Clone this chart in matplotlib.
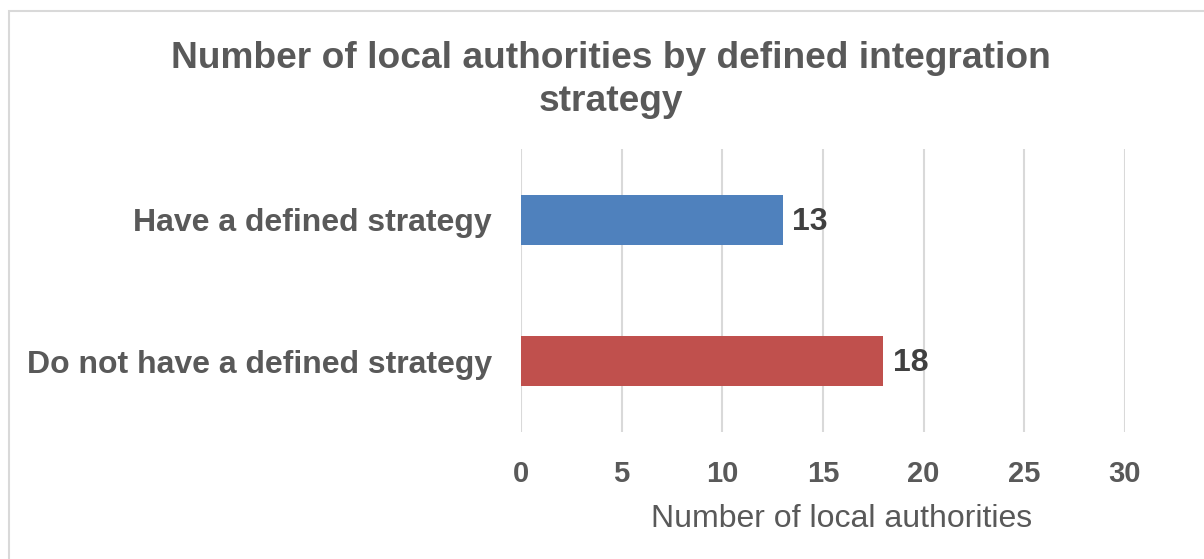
import matplotlib
matplotlib.use("Agg")
import matplotlib.pyplot as plt
from matplotlib.patches import Rectangle

categories = ["Have a defined strategy", "Do not have a defined strategy"]
values = [13, 18]
bar_colors = ["#4F81BD", "#C0504D"]
x_ticks = [0, 5, 10, 15, 20, 25, 30]

title = "Number of local authorities by defined integration\nstrategy"
x_label = "Number of local authorities"

plt.rcParams["font.family"] = ["Liberation Sans", "DejaVu Sans"]

W, H = 1204, 559
fig = plt.figure(figsize=(W / 100, H / 100), dpi=100)
fig.patch.set_facecolor("white")

# chart-area frame
fig.add_artist(Rectangle((9 / W, -0.05), 1.2, 1 - 11 / H + 0.05,
                         transform=fig.transFigure, fill=False,
                         edgecolor="#D9D9D9", linewidth=1.5))

ax = fig.add_axes([521 / W, 1 - 432 / H, (1125 - 521) / W, (432 - 149) / H])

ypos = list(range(len(categories)))
ax.barh(ypos, values, height=0.355, color=bar_colors, zorder=3)

ax.set_xlim(0, 30)
ax.set_ylim(1.5, -0.5)
ax.set_xticks(x_ticks)
ax.set_xticklabels([str(t) for t in x_ticks], fontsize=21, fontweight="bold",
                   color="#595959")
ax.set_yticks(ypos)
ax.set_yticklabels(categories, fontsize=23, fontweight="bold", color="#595959")
ax.tick_params(axis="both", length=0)
ax.tick_params(axis="x", pad=20)
ax.tick_params(axis="y", pad=21)

ax.grid(axis="x", color="#D9D9D9", linewidth=1.5, zorder=0)
for s in ax.spines.values():
    s.set_visible(False)

for y, v in zip(ypos, values):
    ax.annotate(str(v), (v, y), xytext=(7, -1.5), textcoords="offset points",
                ha="left", va="center", fontsize=23, fontweight="bold",
                color="#404040")

ax.set_xlabel(x_label, fontsize=23, color="#595959", labelpad=10)
ax.xaxis.set_label_coords(0.531, -0.255)

fig.text(611 / W, 1 - 80 / H, title, ha="center", va="center",
         fontsize=26.7, fontweight="bold", color="#595959", linespacing=1.28)

fig.savefig("out.png", dpi=100)
